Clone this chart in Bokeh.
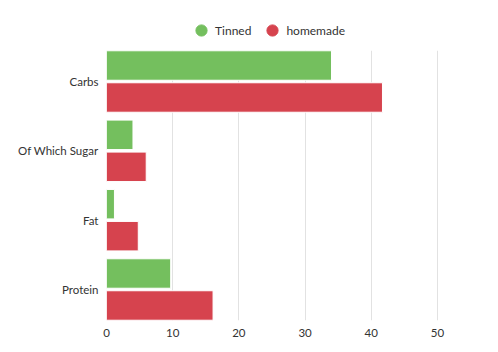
from bokeh.plotting import figure
from bokeh.layouts import column
from bokeh.models import ColumnDataSource, FactorRange, Range1d, Legend, LegendItem
from bokeh.transform import dodge
from bokeh.embed import file_html
from bokeh.resources import INLINE

categories = ["Carbs", "Of Which Sugar", "Fat", "Protein"]
tinned = [34, 4, 1.2, 9.7]
homemade = [41.7, 6, 4.8, 16.1]
series_names = ["Tinned", "homemade"]
x_ticks = [0, 10, 20, 30, 40, 50]

GREEN = "#74bf5e"
RED = "#d6434e"
FONT = "Lato"
TXT = "#333333"

source = ColumnDataSource(dict(cat=categories, tinned=tinned, homemade=homemade))

yr = FactorRange(factors=list(reversed(categories)), range_padding=0, factor_padding=0.118)

p = figure(y_range=yr, x_range=Range1d(0, 55),
           width=498, height=302,
           min_border_left=106, min_border_right=28, min_border_top=0, min_border_bottom=32,
           output_backend="svg", toolbar_location=None)

g1 = p.hbar(y=dodge("cat", 0.258, range=yr), right="tinned", left=0, height=0.475,
            source=source, fill_color=GREEN, line_color="white", line_width=1)
g2 = p.hbar(y=dodge("cat", -0.258, range=yr), right="homemade", left=0, height=0.475,
            source=source, fill_color=RED, line_color="white", line_width=1)

p.xaxis.ticker = x_ticks
p.xgrid.ticker = x_ticks
p.xgrid.grid_line_color = "#e2e2e2"
p.ygrid.grid_line_color = None
p.outline_line_color = None

for ax in (p.xaxis[0], p.yaxis[0]):
    ax.axis_line_color = None
    ax.major_tick_line_color = None
    ax.minor_tick_line_color = None
    ax.major_label_text_font = FONT
    ax.major_label_text_font_size = "11.5px"
    ax.major_label_text_color = TXT
p.xaxis.major_label_standoff = 2
p.yaxis.major_label_standoff = 2

# legend strip above the chart (its frame is aligned with the chart's frame)
lg = figure(width=498, height=50, x_range=Range1d(0, 1), y_range=Range1d(0, 1),
            min_border=0, output_backend="svg", toolbar_location=None)
lg.axis.visible = False
lg.grid.visible = False
lg.outline_line_color = None
m1 = lg.scatter(x=[-5], y=[-5], size=12, marker="circle", fill_color=GREEN, line_color=GREEN)
m2 = lg.scatter(x=[-5], y=[-5], size=12, marker="circle", fill_color=RED, line_color=RED)
legend = Legend(items=[LegendItem(label=series_names[0], renderers=[m1]),
                       LegendItem(label=series_names[1], renderers=[m2])],
                orientation="horizontal", location=(81, 6),
                label_text_font=FONT, label_text_font_size="12px", label_text_color=TXT,
                border_line_color=None, background_fill_alpha=0,
                glyph_width=28, glyph_height=28, label_height=28, label_standoff=0, spacing=7,
                padding=0, margin=0)
lg.add_layout(legend, "center")

layout = column(lg, p, spacing=0)
open("out.html", "w").write(file_html(layout, INLINE))
